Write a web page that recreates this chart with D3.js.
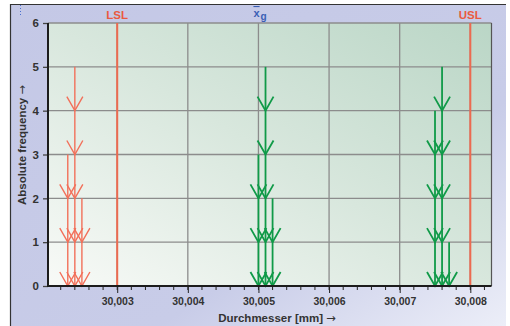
<!DOCTYPE html>
<html>
<head>
<meta charset="utf-8">
<script src="https://cdn.jsdelivr.net/npm/d3@7"></script>
<style>
  body { margin: 0; background: #fff; }
  text { font-family: "Liberation Sans", Arial, sans-serif; font-weight: bold; fill: #333; }
  .arrow { font-family: "DejaVu Sans", sans-serif; font-weight: normal; }
</style>
</head>
<body>
<script>
// measured values (mm) and how often each one occurred
const redValues = [30.0023, 30.0024, 30.0025];
const redCounts = [3, 5, 2];
const greenValues = [30.0050, 30.0051, 30.0052, 30.0075, 30.0076, 30.0077];
const greenCounts = [3, 5, 2, 4, 5, 1];
const limits = [{ name: "LSL", value: 30.003 }, { name: "USL", value: 30.008 }];
const meanValue = 30.005;
const xTicks = [30.003, 30.004, 30.005, 30.006, 30.007, 30.008];
const yTicks = [0, 1, 2, 3, 4, 5, 6];

const w = 510;
const h = 326;
const plot = { left: 48, right: 491.5, top: 23, bottom: 286 };

const svg = d3.select("body").append("svg").attr("width", w).attr("height", h);
const defs = svg.append("defs");

const frameGrad = defs.append("linearGradient").attr("id", "frame")
  .attr("x1", "0").attr("y1", "0").attr("x2", "1").attr("y2", "1");
frameGrad.append("stop").attr("offset", "0").attr("stop-color", "#c4c8e6");
frameGrad.append("stop").attr("offset", "0.65").attr("stop-color", "#c8cce8");
frameGrad.append("stop").attr("offset", "1").attr("stop-color", "#eceef8");

const plotGrad = defs.append("linearGradient").attr("id", "plotbg")
  .attr("x1", "0").attr("y1", "1").attr("x2", "1").attr("y2", "0");
plotGrad.append("stop").attr("offset", "0").attr("stop-color", "#f8faf7");
plotGrad.append("stop").attr("offset", "0.5").attr("stop-color", "#d8e7dd");
plotGrad.append("stop").attr("offset", "1").attr("stop-color", "#bad6c6");

// outer frame
svg.append("rect").attr("x", 10).attr("y", 4).attr("width", 496).attr("height", h - 4)
  .attr("fill", "url(#frame)");
svg.append("path").attr("d", `M10.5,${h} V4.5 H506`)
  .attr("fill", "none").attr("stroke", "#333").attr("stroke-width", 1.2);
svg.append("line").attr("x1", 20.5).attr("x2", 20.5).attr("y1", 5).attr("y2", 15)
  .attr("stroke", "#4a6fd0").attr("stroke-dasharray", "1,2");

const x = d3.scaleLinear()
  .domain([30.00202, 30.0083])
  .range([plot.left, plot.right]);

const y = d3.scaleLinear()
  .domain([0, 6])
  .range([plot.bottom, plot.top]);

svg.append("rect")
  .attr("x", plot.left).attr("y", plot.top)
  .attr("width", plot.right - plot.left).attr("height", plot.bottom - plot.top)
  .attr("fill", "url(#plotbg)");

// grid
svg.append("g").selectAll("line").data(yTicks.slice(1)).enter().append("line")
  .attr("x1", plot.left).attr("x2", plot.right)
  .attr("y1", (d) => y(d)).attr("y2", (d) => y(d))
  .attr("stroke", "#8c8c8c").attr("stroke-width", 1.3);
svg.append("g").selectAll("line").data(xTicks).enter().append("line")
  .attr("x1", (d) => x(d)).attr("x2", (d) => x(d))
  .attr("y1", plot.top).attr("y2", plot.bottom)
  .attr("stroke", "#8c8c8c").attr("stroke-width", 1.3);

svg.append("line").attr("x1", plot.right).attr("x2", plot.right)
  .attr("y1", plot.top).attr("y2", plot.bottom)
  .attr("stroke", "#555").attr("stroke-width", 1.2);

// limit lines
svg.append("g").selectAll("line").data(limits).enter().append("line")
  .attr("x1", (d) => x(d.value)).attr("x2", (d) => x(d.value))
  .attr("y1", plot.top).attr("y2", plot.bottom)
  .attr("stroke", "#ec6a50").attr("stroke-width", 2);
svg.append("g").selectAll("text").data(limits).enter().append("text")
  .attr("x", (d) => x(d.value)).attr("y", 19)
  .attr("text-anchor", "middle").attr("font-size", 11.5)
  .style("fill", "#ea5a40")
  .text((d) => d.name);

const meanLabel = svg.append("text")
  .attr("x", x(meanValue) - 5).attr("y", 17)
  .attr("font-size", 11).style("fill", "#3a5eb4");
meanLabel.append("tspan").style("text-decoration", "overline").text("x");
meanLabel.append("tspan").attr("dy", 3).attr("dx", 1).attr("font-size", 10).text("g");

// stacked arrows, one per measurement
function drawArrows(values, counts, color, width) {
  const cols = values.map((v, i) => ({ v: v, n: counts[i] }));
  const g = svg.append("g").attr("fill", "none").attr("stroke", color).attr("stroke-width", width);
  g.selectAll("line").data(cols).enter().append("line")
    .attr("x1", (d) => x(d.v)).attr("x2", (d) => x(d.v))
    .attr("y1", (d) => y(d.n)).attr("y2", y(0));
  const heads = [];
  cols.forEach((c) => d3.range(c.n).forEach((k) => heads.push({ v: c.v, k: k })));
  g.selectAll("path").data(heads).enter().append("path")
    .attr("d", (d) => {
      const px = x(d.v), py = y(d.k);
      return `M${px - 8},${py - 14} L${px},${py} L${px + 8},${py - 14}`;
    });
}
drawArrows(redValues, redCounts, "#f2705a", 1.4);
drawArrows(greenValues, greenCounts, "#109a48", 1.8);

// axes
const minorTicks = d3.range(30.0022, 30.00831, 0.0002);
svg.append("g").selectAll("line").data(minorTicks).enter().append("line")
  .attr("x1", (d) => x(d)).attr("x2", (d) => x(d))
  .attr("y1", plot.bottom).attr("y2", plot.bottom + 4)
  .attr("stroke", "#222").attr("stroke-width", 1);

const xAxis = d3.axisBottom(x).tickValues(xTicks).tickSize(7).tickPadding(3)
  .tickFormat((d) => d3.format(".3f")(d).replace(".", ","));
const gx = svg.append("g")
  .attr("transform", `translate(0, ${plot.bottom})`)
  .call(xAxis);
gx.select(".domain").remove();
gx.selectAll(".tick line").attr("stroke", "#222");
gx.selectAll(".tick text").attr("font-size", 10.5).attr("font-family", null).attr("dy", "0.9em");

const yAxis = d3.axisLeft(y).tickValues(yTicks).tickSize(5).tickPadding(4)
  .tickFormat(d3.format("d"));
const gy = svg.append("g")
  .attr("transform", `translate(${plot.left}, 0)`)
  .call(yAxis);
gy.select(".domain").remove();
gy.selectAll(".tick line").attr("stroke", "#444").attr("stroke-width", 1.3);
gy.selectAll(".tick text").attr("font-size", 11.5).attr("font-family", null);

svg.append("path")
  .attr("d", `M${plot.left},${plot.top} V${plot.bottom} H${plot.right}`)
  .attr("fill", "none").attr("stroke", "#1c1c1c").attr("stroke-width", 2);

const xLabel = svg.append("text")
  .attr("x", 277).attr("y", 322)
  .attr("text-anchor", "middle").attr("font-size", 11.5);
xLabel.append("tspan").text("Durchmesser [mm] ");
xLabel.append("tspan").attr("class", "arrow").text("\u2192");

const yLabel = svg.append("text")
  .attr("transform", "rotate(-90)")
  .attr("x", -145).attr("y", 26)
  .attr("text-anchor", "middle").attr("font-size", 11.5);
yLabel.append("tspan").text("Absolute frequency ");
yLabel.append("tspan").attr("class", "arrow").text("\u2192");
</script>
</body>
</html>
